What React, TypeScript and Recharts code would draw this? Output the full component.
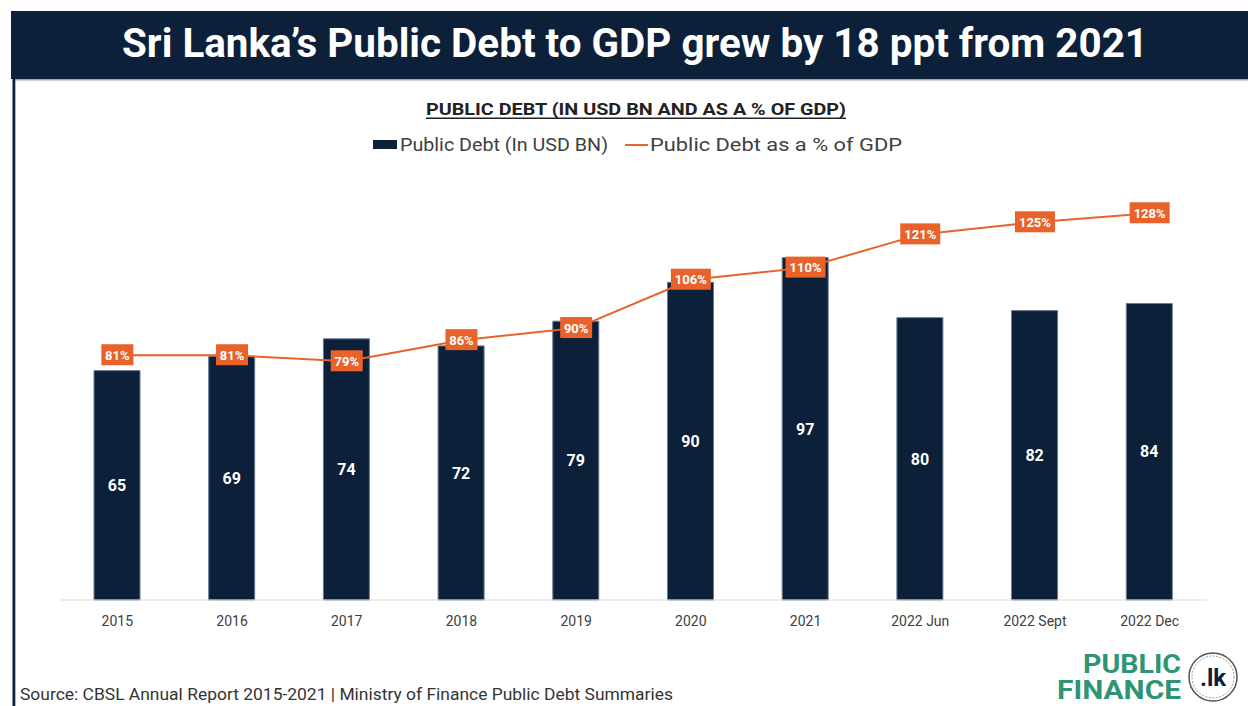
import React from "react";
import { ComposedChart, Bar, Line, XAxis, YAxis, LabelList } from "recharts";

const categories = ["2015", "2016", "2017", "2018", "2019", "2020", "2021", "2022 Jun", "2022 Sept", "2022 Dec"];
const debtUsdBn = [65, 69, 74, 72, 79, 90, 97, 80, 82, 84];
const debtPctGdp = [81, 81, 79, 86, 90, 106, 110, 121, 125, 128];

const data = categories.map((period, i) => ({
  period,
  debt: debtUsdBn[i],
  pct: debtPctGdp[i],
}));

const NAVY = "#0c2039";
const ORANGE = "#e8622a";
const GREEN = "#2e9474";
const FONT = "Roboto, 'Noto Sans', sans-serif";

function PctLabel(props: any) {
  const { x, y, value } = props;
  const text = `${value}%`;
  const w = text.length * 8 + 8;
  return (
    <g>
      <rect x={x - w / 2} y={y - 11} width={w} height={21} fill={ORANGE} />
      <text
        x={x}
        y={y}
        dy={4.5}
        textAnchor="middle"
        fill="#fff"
        fontSize={13}
        fontWeight={700}
        fontFamily={FONT}
      >
        {text}
      </text>
    </g>
  );
}

export default function App() {
  return (
    <div
      style={{
        position: "absolute",
        left: 0,
        top: 0,
        width: 1248,
        height: 706,
        overflow: "hidden",
        background: "#fff",
        fontFamily: FONT,
      }}
    >
      <div style={{ position: "absolute", left: 0, top: 0 }}>
        <ComposedChart
          width={1248}
          height={706}
          data={data}
          margin={{ top: 180, right: 41, bottom: 76, left: 60 }}
        >
          <XAxis
            dataKey="period"
            interval={0}
            height={30}
            tickLine={false}
            tickMargin={10}
            axisLine={{ stroke: "#d9d9d9" }}
            tick={{ fill: "#404040", fontSize: 14, fontFamily: FONT }}
          />
          <YAxis yAxisId="left" domain={[0, 119]} hide />
          <YAxis yAxisId="right" orientation="right" domain={[0, 139]} hide />
          <Bar
            yAxisId="left"
            dataKey="debt"
            barSize={46}
            fill={NAVY}
            stroke="#6b7a8f"
            strokeWidth={1}
            isAnimationActive={false}
          >
            <LabelList
              dataKey="debt"
              position="center"
              fill="#fff"
              fontSize={16}
              fontWeight={700}
              fontFamily={FONT}
            />
          </Bar>
          <Line
            yAxisId="right"
            type="linear"
            dataKey="pct"
            stroke={ORANGE}
            strokeWidth={2}
            dot={false}
            isAnimationActive={false}
          >
            <LabelList dataKey="pct" content={<PctLabel />} />
          </Line>
        </ComposedChart>
      </div>

      <svg
        width={1248}
        height={706}
        style={{ position: "absolute", left: 0, top: 0, pointerEvents: "none" }}
      >
        {/* header band */}
        <rect x={11} y={11} width={1237} height={68} fill={NAVY} />
        <rect x={15} y={79} width={1233} height={1.5} fill="#9aaabb" />
        <rect x={12.5} y={79} width={2.8} height={627} fill={NAVY} />
        <text
          x={122}
          y={57}
          fill="#fff"
          fontSize={40}
          fontWeight={700}
          fontFamily={FONT}
          textLength={1026}
          lengthAdjust="spacingAndGlyphs"
        >
          Sri Lanka’s Public Debt to GDP grew by 18 ppt from 2021
        </text>

        {/* subtitle */}
        <text
          x={426}
          y={115}
          fill="#222"
          fontSize={17}
          fontWeight={700}
          fontFamily={FONT}
          textLength={420}
          lengthAdjust="spacingAndGlyphs"
        >
          PUBLIC DEBT (IN USD BN AND AS A % OF GDP)
        </text>
        <rect x={426} y={117.5} width={420} height={1.5} fill="#222" />

        {/* legend */}
        <rect x={373} y={140} width={24} height={9} fill={NAVY} />
        <text
          x={400}
          y={151}
          fill="#404040"
          fontSize={18}
          fontFamily={FONT}
          textLength={208}
          lengthAdjust="spacingAndGlyphs"
        >
          Public Debt (In USD BN)
        </text>
        <rect x={625} y={144} width={23} height={2} fill={ORANGE} />
        <text
          x={650}
          y={151}
          fill="#404040"
          fontSize={18}
          fontFamily={FONT}
          textLength={252}
          lengthAdjust="spacingAndGlyphs"
        >
          Public Debt as a % of GDP
        </text>

        {/* source */}
        <text
          x={20}
          y={700}
          fill="#333"
          fontSize={17}
          fontFamily={FONT}
          textLength={653}
          lengthAdjust="spacingAndGlyphs"
        >
          Source: CBSL Annual Report 2015-2021 | Ministry of Finance Public Debt Summaries
        </text>

        {/* logo */}
        <text
          x={1181}
          y={673}
          textAnchor="end"
          fill={GREEN}
          fontSize={25}
          fontWeight={700}
          fontFamily={FONT}
          textLength={98}
          lengthAdjust="spacingAndGlyphs"
        >
          PUBLIC
        </text>
        <text
          x={1181}
          y={699}
          textAnchor="end"
          fill={GREEN}
          fontSize={25}
          fontWeight={700}
          fontFamily={FONT}
          textLength={124}
          lengthAdjust="spacingAndGlyphs"
        >
          FINANCE
        </text>
        <circle cx={1213} cy={677} r={24} fill="#fff" stroke="#555" strokeWidth={1.5} />
        <circle cx={1213} cy={677} r={21} fill="none" stroke="#999" strokeWidth={1} strokeDasharray="2 1.5" />
        <text
          x={1213}
          y={686}
          textAnchor="middle"
          fill={NAVY}
          fontSize={24}
          fontWeight={700}
          fontFamily={FONT}
        >
          .lk
        </text>
      </svg>
    </div>
  );
}
